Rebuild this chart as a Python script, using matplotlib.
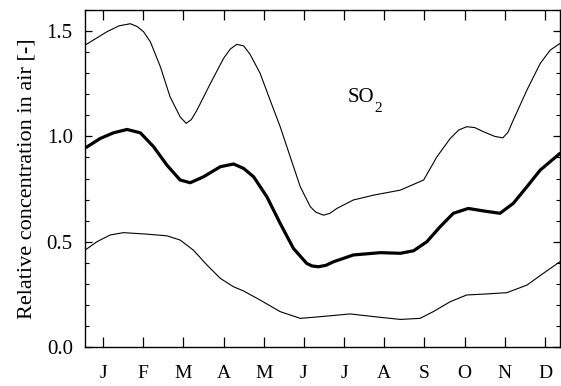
import matplotlib
matplotlib.use("Agg")
import matplotlib.pyplot as plt
from matplotlib.ticker import MultipleLocator
from matplotlib.transforms import offset_copy

plt.rcParams['font.family'] = ['Liberation Serif', 'DejaVu Serif']

month_labels = ['J', 'F', 'M', 'A', 'M', 'J', 'J', 'A', 'S', 'O', 'N', 'D']

# Upper curve (time in months, value)
upper_t = [0.585, 1.10, 1.40, 1.68, 1.85, 2.01, 2.18, 2.43, 2.67, 2.92, 3.07, 3.20, 3.34, 3.67,
           4.0, 4.17, 4.33, 4.5, 4.66, 4.91, 5.16, 5.41, 5.66, 5.91, 6.16, 6.30, 6.49, 6.65,
           6.82, 7.23, 7.73, 8.40, 8.98, 9.31, 9.64, 9.85, 10.05, 10.25, 10.47, 10.75, 10.95,
           11.08, 11.21, 11.55, 11.88, 12.13, 12.37]
upper_v = [1.437, 1.497, 1.525, 1.535, 1.522, 1.497, 1.449, 1.33, 1.188, 1.093, 1.062, 1.08,
           1.125, 1.25, 1.37, 1.415, 1.437, 1.43, 1.39, 1.30, 1.172, 1.046, 0.903, 0.761,
           0.666, 0.64, 0.626, 0.635, 0.658, 0.698, 0.721, 0.745, 0.793, 0.903, 0.99, 1.03,
           1.046, 1.042, 1.022, 1.0, 0.993, 1.02, 1.077, 1.22, 1.346, 1.41, 1.441]

# Middle (mean) curve
mid_t = [0.585, 0.93, 1.26, 1.6, 1.93, 2.26, 2.59, 2.92, 3.17, 3.5, 3.92, 4.25, 4.5,
         4.75, 5.08, 5.41, 5.74, 6.07, 6.20, 6.36, 6.55, 6.74, 7.23, 7.90, 8.40, 8.73,
         9.06, 9.39, 9.72, 10.09, 10.47, 10.88, 11.21, 11.55, 11.88, 12.37]
mid_v = [0.948, 0.99, 1.017, 1.033, 1.017, 0.951, 0.864, 0.793, 0.78, 0.808, 0.856, 0.869,
         0.848, 0.808, 0.713, 0.587, 0.468, 0.397, 0.385, 0.381, 0.388, 0.405, 0.437, 0.448,
         0.445, 0.457, 0.50, 0.571, 0.635, 0.658, 0.646, 0.635, 0.682, 0.761, 0.84, 0.919]

# Lower curve
lower_t = [0.585, 0.85, 1.18, 1.51, 2.09, 2.59, 2.92, 3.25, 3.59, 3.92, 4.25, 4.5,
           4.91, 5.41, 5.91, 6.41, 7.15, 7.90, 8.40, 8.89, 9.22, 9.64, 10.05, 10.55,
           11.05, 11.55, 11.96, 12.37]
lower_v = [0.464, 0.50, 0.532, 0.543, 0.536, 0.528, 0.508, 0.46, 0.389, 0.326, 0.286, 0.266,
           0.223, 0.168, 0.136, 0.144, 0.157, 0.141, 0.131, 0.136, 0.168, 0.215, 0.247, 0.252,
           0.258, 0.294, 0.35, 0.405]

fig = plt.figure(figsize=(5.61, 3.86), dpi=100)
ax = fig.add_axes([0.152, 0.101, 0.846, 0.873])

ax.plot(upper_t, upper_v, color='black', lw=0.8, solid_capstyle='round',
        solid_joinstyle='round')
ax.plot(mid_t, mid_v, color='black', lw=2.3, solid_capstyle='round',
        solid_joinstyle='round')
ax.plot(lower_t, lower_v, color='black', lw=0.8, solid_capstyle='round',
        solid_joinstyle='round')

ax.set_xlim(0.56, 12.37)
ax.set_ylim(0.0, 1.6)
ax.set_xticks(range(1, 13))
ax.set_xticklabels(month_labels, fontsize=14)
ax.yaxis.set_minor_locator(MultipleLocator(0.1))
ax.set_yticks([0.0, 0.5, 1.0, 1.5])
ax.set_yticklabels(['0.0', '0.5', '1.0', '1.5'], fontsize=15)

ax.tick_params(axis='x', which='major', direction='in', length=7, width=0.9,
               top=True, bottom=True, pad=13)
ax.tick_params(axis='y', which='major', direction='in', length=5, width=0.9,
               left=True, right=True, pad=9)
ax.tick_params(axis='y', which='minor', direction='in', length=3, width=0.8,
               left=True, right=True)
for s in ax.spines.values():
    s.set_linewidth(1.0)

ax.set_ylabel('Relative concentration in air [-]', fontsize=16, labelpad=7)

ax.text(0.552, 0.727, 'SO', transform=ax.transAxes, fontsize=15,
        ha='left', va='baseline')
sub_tr = offset_copy(ax.transAxes, fig=fig, x=19.5, y=-7.5, units='points')
ax.text(0.552, 0.727, '2', transform=sub_tr, fontsize=11,
        ha='left', va='baseline')

fig.savefig('out.png', dpi=100)
